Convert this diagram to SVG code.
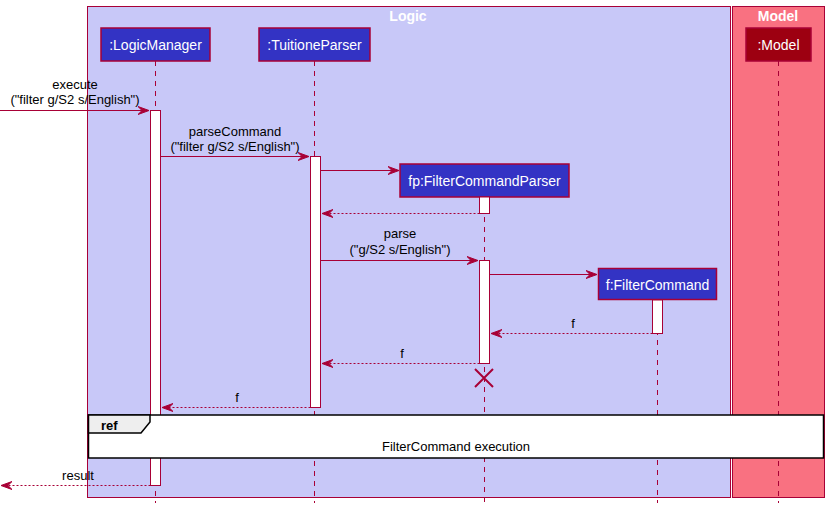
<svg xmlns="http://www.w3.org/2000/svg" width="829" height="509" viewBox="0 0 829 509">
<defs>
<style>
.t{font-family:"Liberation Sans",Arial,sans-serif;font-size:13px;fill:#000}
.pt{font-family:"Liberation Sans",Arial,sans-serif;font-size:14px;fill:#fff}
.bt{font-family:"Liberation Sans",Arial,sans-serif;font-size:14px;font-weight:bold;fill:#fff}
.life{stroke:#A80036;stroke-width:1;stroke-dasharray:5,5;fill:none}
.msg{stroke:#A80036;stroke-width:1;fill:none}
.ret{stroke:#A80036;stroke-width:1;stroke-dasharray:2,2;fill:none}
.act{fill:#fff;stroke:#A80036;stroke-width:1}
.part{fill:#3333C4;stroke:#A80036;stroke-width:1.5}
</style>
<marker id="ah" viewBox="0 0 12 10" refX="11" refY="5" markerWidth="12" markerHeight="10" markerUnits="userSpaceOnUse" orient="auto">
<polygon points="0,1 11,5 0,9 4,5" fill="#A80036" stroke="#A80036" stroke-width="1"/>
</marker>
</defs>
<g id="box-logic">
<rect x="87.5" y="6.5" width="643" height="491" fill="#C8C8F8" stroke="#A80036" stroke-width="1"/>
<text class="bt" x="408" y="21" text-anchor="middle">Logic</text>
</g>
<g id="box-model">
<rect x="732.5" y="6.5" width="92" height="491" fill="#F97181" stroke="#A80036" stroke-width="1"/>
<text class="bt" x="778" y="21" text-anchor="middle">Model</text>
</g>
<g id="lifelines">
<line class="life" x1="155.5" y1="61" x2="155.5" y2="503"/>
<line class="life" x1="314.5" y1="61" x2="314.5" y2="503"/>
<line class="life" x1="484.5" y1="197" x2="484.5" y2="503"/>
<line class="life" x1="657.5" y1="300" x2="657.5" y2="503"/>
<line class="life" x1="778.5" y1="61" x2="778.5" y2="503"/>
</g>
<g id="LogicManager">
<rect class="part" x="101" y="28" width="109" height="33"/>
<text class="pt" x="155.5" y="50" text-anchor="middle">:LogicManager</text>
<rect class="act" x="150.5" y="110.5" width="10" height="375"/>
</g>
<g id="TuitioneParser">
<rect class="part" x="259" y="28" width="111" height="33"/>
<text class="pt" x="314.5" y="50" text-anchor="middle">:TuitioneParser</text>
<rect class="act" x="310.5" y="156.5" width="10" height="251"/>
</g>
<g id="Model">
<rect x="746" y="28" width="65" height="33" fill="#9D0011" stroke="#A80036" stroke-width="1.5"/>
<text class="pt" x="778.5" y="50" text-anchor="middle">:Model</text>
</g>
<g id="FilterCommandParser">
<rect class="part" x="400" y="164" width="169" height="33"/>
<text class="pt" x="484.5" y="186" text-anchor="middle">fp:FilterCommandParser</text>
<rect class="act" x="479.5" y="197" width="10" height="16.5"/>
<rect class="act" x="479.5" y="260.5" width="10" height="103"/>
<path d="M475,369 L493,387 M493,369 L475,387" stroke="#A80036" stroke-width="2" fill="none"/>
</g>
<g id="FilterCommand">
<rect class="part" x="598.5" y="268.5" width="118" height="31"/>
<text class="pt" x="657.5" y="290" text-anchor="middle">f:FilterCommand</text>
<rect class="act" x="652.5" y="300" width="10" height="33.5"/>
</g>
<g id="connectors">
<line class="msg" x1="0" y1="110.5" x2="149" y2="110.5" marker-end="url(#ah)"/>
<text class="t" x="75" y="89" text-anchor="middle">execute</text>
<text class="t" x="75" y="104" text-anchor="middle">("filter g/S2 s/English")</text>
<line class="msg" x1="160.5" y1="156.5" x2="309" y2="156.5" marker-end="url(#ah)"/>
<text class="t" x="235" y="136" text-anchor="middle">parseCommand</text>
<text class="t" x="235" y="151" text-anchor="middle">("filter g/S2 s/English")</text>
<line class="msg" x1="320.5" y1="170.5" x2="399" y2="170.5" marker-end="url(#ah)"/>
<line class="ret" x1="479.5" y1="213.5" x2="322" y2="213.5" marker-end="url(#ah)"/>
<line class="msg" x1="320.5" y1="260.5" x2="478" y2="260.5" marker-end="url(#ah)"/>
<text class="t" x="400" y="238" text-anchor="middle">parse</text>
<text class="t" x="400" y="254" text-anchor="middle">("g/S2 s/English")</text>
<line class="msg" x1="489.5" y1="274.5" x2="597" y2="274.5" marker-end="url(#ah)"/>
<line class="ret" x1="652.5" y1="333.5" x2="491" y2="333.5" marker-end="url(#ah)"/>
<text class="t" x="573" y="328" text-anchor="middle">f</text>
<line class="ret" x1="479.5" y1="363.5" x2="322" y2="363.5" marker-end="url(#ah)"/>
<text class="t" x="402" y="358" text-anchor="middle">f</text>
<line class="ret" x1="310.5" y1="407.5" x2="162" y2="407.5" marker-end="url(#ah)"/>
<text class="t" x="237" y="402" text-anchor="middle">f</text>
<line class="ret" x1="150.5" y1="485.5" x2="1" y2="485.5" marker-end="url(#ah)"/>
<text class="t" x="78" y="480" text-anchor="middle">result</text>
</g>
<g id="ref">
<rect x="88.5" y="415" width="735" height="43" fill="#fff" stroke="#000" stroke-width="1.5"/>
<polygon points="88.5,415 150,415 150,422 141,433 88.5,433" fill="#EEEEEE" stroke="#000" stroke-width="1.5"/>
<text x="101" y="430" font-family="Liberation Sans,Arial,sans-serif" font-size="13" font-weight="bold" fill="#000">ref</text>
<text class="t" x="456" y="451" text-anchor="middle">FilterCommand execution</text>
</g>
</svg>
